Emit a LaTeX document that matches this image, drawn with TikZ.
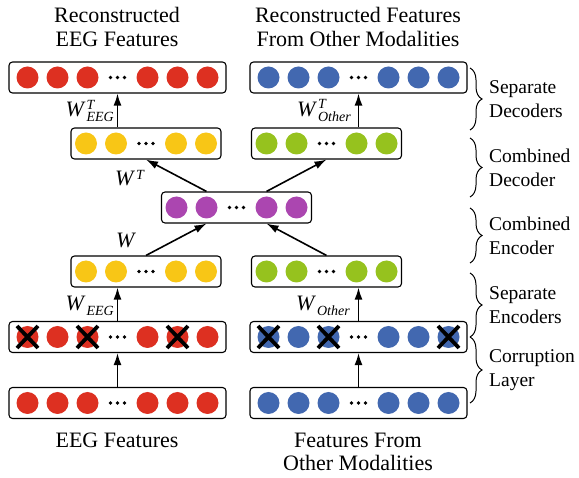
\documentclass[tikz,border=0pt]{standalone}
\usepackage{fontspec}
\setmainfont{Liberation Serif}
\usetikzlibrary{arrows.meta,decorations.pathreplacing}
\definecolor{cred}{RGB}{221,48,33}
\definecolor{cblue}{RGB}{66,104,176}
\definecolor{cyel}{RGB}{248,198,22}
\definecolor{cgrn}{RGB}{150,194,30}
\definecolor{cpur}{RGB}{171,70,176}
% W with stacked super/subscript (no overlapping boxes)
\newcommand{\WTsub}[1]{\textit{W}\kern1pt\raisebox{-5pt}{\fontsize{14}{11.5}\selectfont\begin{tabular}[b]{@{}l@{}}\textit{T}\\\textit{#1}\end{tabular}}}
\newcommand{\Wsub}[1]{\textit{W}\kern1pt\raisebox{-5pt}{\fontsize{14}{14}\selectfont\textit{#1}}}
\newcommand{\Wsup}{\textit{W}\kern1pt\raisebox{6.5pt}{\fontsize{14}{14}\selectfont\textit{T}}}
\newcommand{\longrow}[4]{%
  \node[longbox] (#1) at (#2,#3) {};
  \foreach \o [count=\i] in {-90,-60,-30,30,60,90}
    \node[unit,fill=#4] (#1-\i) at ([xshift=\o pt]#1.center) {};
  \foreach \d in {-7,0,7} \fill ([xshift=\d pt]#1.center) circle (1.9pt);
}
\newcommand{\shortrow}[4]{%
  \node[shortbox] (#1) at (#2,#3) {};
  \foreach \o [count=\i] in {-60,-30,30,60}
    \node[unit,fill=#4] (#1-\i) at ([xshift=\o pt]#1.center) {};
  \foreach \d in {-7,0,7} \fill ([xshift=\d pt]#1.center) circle (1.9pt);
}
\begin{document}
\begin{tikzpicture}[x=1pt,y=-1pt,
  layerbox/.style={draw,rounded corners=3.5pt,line width=1.1pt,minimum height=31pt,inner sep=0pt},
  longbox/.style={layerbox,minimum width=217pt},
  shortbox/.style={layerbox,minimum width=150pt},
  unit/.style={circle,inner sep=0pt,minimum size=22pt},
  arr/.style={line width=1.6pt,-{Latex[length=12pt,width=8pt]}},
  txt/.style={font=\fontsize{22}{23.5}\selectfont,align=center},
  sidetxt/.style={font=\fontsize{19.5}{23.5}\selectfont,align=left,anchor=west,inner sep=0pt},
  wlab/.style={font=\fontsize{22}{22}\selectfont,inner sep=0pt},
  cross/.style={line width=3.8pt},
  brc/.style={decorate,decoration={brace,amplitude=12pt},line width=1pt}
]
\useasboundingbox (0,0) rectangle (579,478);

\longrow{outE}{117.5}{77.5}{cred}
\longrow{outO}{358.5}{77.5}{cblue}
\shortrow{decE}{146}{143.5}{cyel}
\shortrow{decO}{326.5}{143.5}{cgrn}
\shortrow{shared}{236.5}{207.5}{cpur}
\shortrow{encE}{146}{271.5}{cyel}
\shortrow{encO}{326.5}{271.5}{cgrn}
\longrow{corE}{117.5}{337}{cred}
\longrow{corO}{358.5}{337}{cblue}
\longrow{inE}{117.5}{403}{cred}
\longrow{inO}{358.5}{403}{cblue}

% corruption crosses
\foreach \c in {corE-1,corE-3,corE-5,corO-1,corO-3,corO-6}
  \draw[cross] ([shift={(-10.5pt,11pt)}]\c.center) -- ([shift={(10.5pt,-11pt)}]\c.center)
               ([shift={(-10.5pt,-11pt)}]\c.center) -- ([shift={(10.5pt,11pt)}]\c.center);

% arrows
\draw[arr] (inE) -- (corE);
\draw[arr] (inO) -- (corO);
\draw[arr] (corE.north) -- (corE.north |- encE.south);
\draw[arr] (corO.north) -- (corO.north |- encO.south);
\draw[arr] (encE.north) -- (shared-2 |- shared.south);
\draw[arr] (encO.north) -- (shared-3 |- shared.south);
\draw[arr] (shared-2 |- shared.north) -- (decE.south);
\draw[arr] (shared-3 |- shared.north) -- (decO.south);
\draw[arr] (outE.south |- decE.north) -- (outE.south);
\draw[arr] (outO.south |- decO.north) -- (outO.south);

% weight labels
\node[wlab,anchor=base east] (lWTE) at (114,117) {\WTsub{EEG}};
\node[wlab,anchor=base east] (lWTO) at (351,117) {\WTsub{Other}};
\node[wlab,anchor=base] (lWT) at (130,186) {\Wsup};
\node[wlab,anchor=base] (lW) at (126,248) {\textit{W}};
\node[wlab,anchor=base east] (lWE) at (114,311) {\Wsub{EEG}};
\node[wlab,anchor=base east] (lWO) at (350,311) {\Wsub{Other}};

% titles
\node[txt] (tE) at (117,27) {Reconstructed\\EEG Features};
\node[txt] (tO) at (358,27) {Reconstructed Features\\From Other Modalities};
\node[txt] (bE) at (117,440) {EEG Features};
\node[txt] (bO) at (358,452) {Features From\\Other Modalities};

% braces
\coordinate (b1t) at (470,68);  \coordinate (b1b) at (470,130);
\coordinate (b2t) at (470,138); \coordinate (b2b) at (470,197);
\coordinate (b3t) at (470,208); \coordinate (b3b) at (470,263);
\coordinate (b4t) at (470,273); \coordinate (b4b) at (470,337);
\coordinate (b5t) at (470,337); \coordinate (b5b) at (470,403);
\draw[brc] (b1t) -- (b1b);
\draw[brc] (b2t) -- (b2b);
\draw[brc] (b3t) -- (b3b);
\draw[brc] (b4t) -- (b4b);
\draw[brc] (b5t) -- (b5b);
\node[sidetxt] (s1) at (489,99) {Separate\\Decoders};
\node[sidetxt] (s2) at (489,168) {Combined\\Decoder};
\node[sidetxt] (s3) at (489,236) {Combined\\Encoder};
\node[sidetxt] (s4) at (489,305) {Separate\\Encoders};
\node[sidetxt] (s5) at (489,370) {Corruption\\Layer};
\end{tikzpicture}
\end{document}
